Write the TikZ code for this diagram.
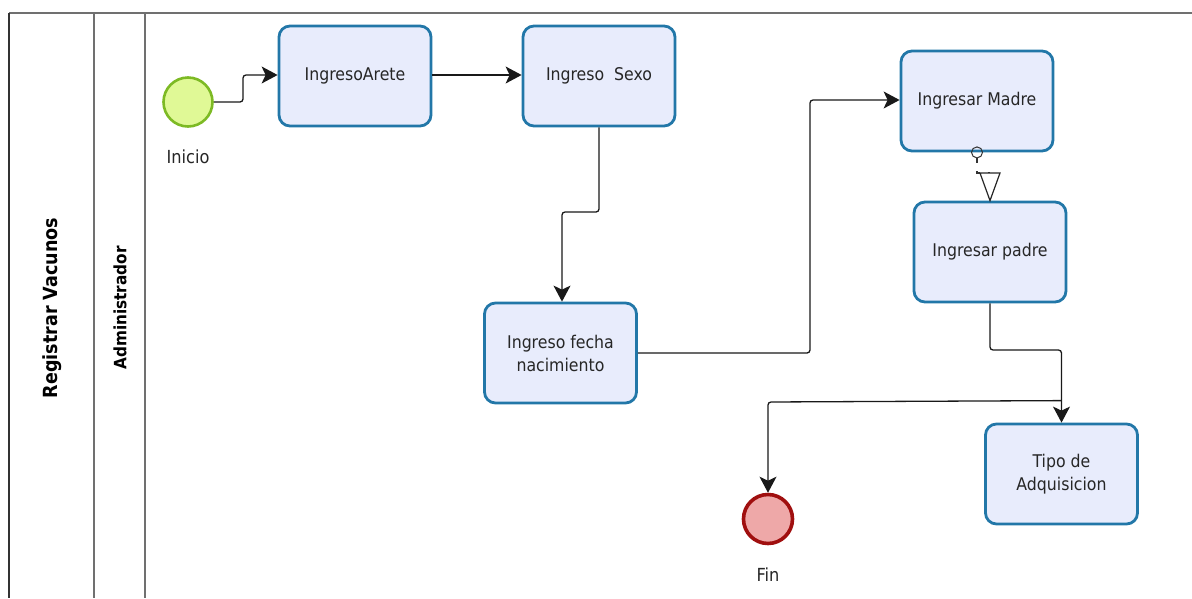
\documentclass[tikz,border=0pt]{standalone}
\usepackage{fontspec}
\setmainfont{DejaVu Sans Condensed}
\usetikzlibrary{arrows.meta}
\definecolor{taskfill}{HTML}{E8ECFC}
\definecolor{taskline}{HTML}{2277A8}
\definecolor{startfill}{HTML}{E0F996}
\definecolor{startline}{HTML}{7DBA24}
\definecolor{endfill}{HTML}{EEA8A8}
\definecolor{endline}{HTML}{A00F0F}
\definecolor{poolline}{HTML}{707070}
\tikzset{
  task/.style={draw=taskline, fill=taskfill, line width=2.8pt, rounded corners=11pt,
    minimum width=152pt, minimum height=100pt, inner sep=0pt, align=center,
    font=\fontsize{17.5}{23}\selectfont, text=black!85},
  startev/.style={circle, draw=startline, fill=startfill, line width=2.6pt, minimum size=49pt, inner sep=0pt},
  endev/.style={circle, draw=endline, fill=endfill, line width=3.6pt, minimum size=49pt, inner sep=0pt},
  evlabel/.style={font=\fontsize{18}{20}\selectfont, text=black!85},
  flow/.style={draw=black!90, line width=1.3pt, rounded corners=3pt, -{Stealth[length=16pt,width=17pt,inset=4pt]}},
  pool/.style={draw=poolline, line width=1.2pt},
}
\begin{document}
\begin{tikzpicture}[x=1pt,y=-1pt]
\useasboundingbox (0,0) rectangle (1192,598);
% pool
\draw[pool] (1192,13) -- (9,13);
\draw[draw=black!80, line width=1.4pt] (9,13) -- (9,598);
\draw[pool] (94,13) -- (94,598);
\draw[pool] (145,13) -- (145,598);
\node[rotate=90, font=\bfseries\fontsize{19.5}{22}\selectfont] (poolname) at (52,308) {Registrar Vacunos};
\node[rotate=90, font=\bfseries\fontsize{17}{20}\selectfont] (lanename) at (120,308) {Administrador};
% events
\node[startev] (start) at (188,102) {};
\node[evlabel] (startlbl) at (188,157) {Inicio};
\node[endev] (fin) at (768,519) {};
\node[evlabel] (finlbl) at (768,575) {Fin};
% tasks
\node[task] (arete) at (355,76) {IngresoArete};
\node[task] (sexo) at (599,76) {Ingreso\ \ Sexo};
\node[task] (fecha) at (560.5,353) {Ingreso fecha\\nacimiento};
\node[task] (madre) at (977,101) {Ingresar Madre};
\node[task] (padre) at (990,252) {Ingresar padre};
\node[task] (tipo) at (1061.5,474) {Tipo de\\Adquisicion};
% flows
\draw[flow] (start.east) -- (243,102) -- (243,75) -- (arete.west |- 0,75);
\draw[flow] (arete.east |- 0,75) -- (sexo.west |- 0,75);
\draw[flow] (sexo.south) -- (599,212) -- (562,212) -- (562,0 |- fecha.north);
\draw[flow] (fecha.east) -- (810,353) -- (810,100) -- (madre.west |- 0,100);
\draw[flow] (padre.south) -- (990,350) -- (1061.5,350) -- (tipo.north);
\draw[flow] (tipo.north) ++(0,-22) -- (768,402) -- (fin.north);
% association (message) Madre -> padre
\coordinate (assocA) at (977,173);
\coordinate (assocB) at (990,173);
\draw[draw=black!80, line width=1pt] (madre.south) circle (5.5pt);
\draw[draw=black!80, line width=1.2pt, dash pattern=on 5pt off 8pt] (977,158) -- (assocA) -- (assocB);
\draw[draw=black!85, line width=1.2pt, fill=white] (980,173) -- (1000,173) -- (padre.north) -- cycle;
\end{tikzpicture}
\end{document}
